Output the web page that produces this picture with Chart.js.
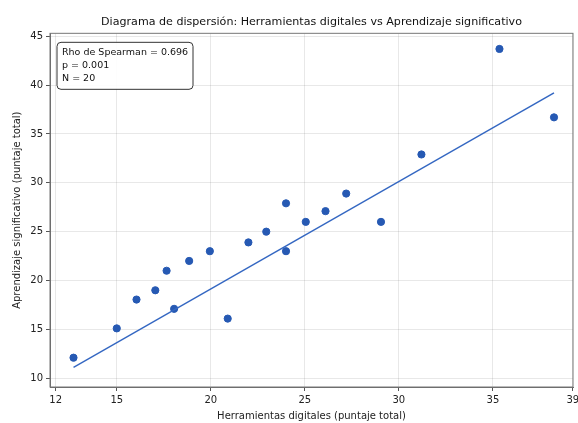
<!DOCTYPE html>
<html>
<head>
<meta charset="utf-8">
<script src="https://cdn.jsdelivr.net/npm/chart.js@4"></script>
<style>
  html, body { margin: 0; padding: 0; background: #fff; overflow: hidden; }
  #wrap { width: 578px; height: 423px; }
</style>
</head>
<body>
<div id="wrap"><canvas id="myChart"></canvas></div>
<script>
"use strict";

// puntajes
const herramientas = [12.7, 15.0, 16.05, 17.05, 17.65, 18.05, 18.85, 19.95, 20.9, 22.0, 22.95, 24.0, 24.0, 25.05, 26.1, 27.2, 29.05, 31.2, 35.35, 38.25];
const aprendizaje = [12.1, 15.1, 18.05, 19.0, 21.0, 17.1, 22.0, 23.0, 16.1, 23.9, 25.0, 27.9, 23.0, 26.0, 27.1, 28.9, 26.0, 32.9, 43.7, 36.7];

// recta de ajuste (extremos)
const ajusteX = [12.7, 38.25];
const ajusteY = [11.1, 39.2];

const xTickValues = [11.75, 15, 20, 25, 30, 35, 39.25];
const xTickLabels = ['12', '15', '20', '25', '30', '35', '39'];
const yTickValues = [10, 15, 20, 25, 30, 35, 40, 45];

const statsLines = ['Rho de Spearman = 0.696', 'p = 0.001', 'N = 20'];

const puntos = herramientas.map(function(x, i) { return { x: x, y: aprendizaje[i] }; });
const recta = ajusteX.map(function(x, i) { return { x: x, y: ajusteY[i] }; });

Chart.defaults.font.family = "'DejaVu Sans', sans-serif";
Chart.defaults.color = '#222';

// marco + cuadro de texto
const boxPlugin = {
  id: 'boxPlugin',
  afterDraw: function(chart) {
    const c = chart.ctx;
    const a = chart.chartArea;
    c.save();
    c.strokeStyle = '#777';
    c.lineWidth = 1;
    c.strokeRect(a.left, a.top, a.right - a.left, a.bottom - a.top);

    const bx = a.left + 7, by = a.top + 9, bw = 136, bh = 47, r = 4;
    c.beginPath();
    c.moveTo(bx + r, by);
    c.arcTo(bx + bw, by, bx + bw, by + bh, r);
    c.arcTo(bx + bw, by + bh, bx, by + bh, r);
    c.arcTo(bx, by + bh, bx, by, r);
    c.arcTo(bx, by, bx + bw, by, r);
    c.closePath();
    c.fillStyle = 'rgba(255,255,255,0.9)';
    c.fill();
    c.strokeStyle = '#333';
    c.stroke();

    c.fillStyle = '#111';
    c.font = "9.5px 'DejaVu Sans'";
    c.textBaseline = 'middle';
    statsLines.forEach(function(t, i) {
      c.fillText(t, bx + 5, by + 10 + i * 13.3);
    });
    c.restore();
  }
};

var ctx = document.getElementById('myChart').getContext('2d');
window.myChart = new Chart(ctx, {
  type: 'scatter',
  data: {
    datasets: [{
      data: puntos,
      backgroundColor: '#2659b3',
      borderColor: '#2659b3',
      pointRadius: 3.6,
      pointHoverRadius: 3.6,
      order: 2
    }, {
      type: 'line',
      data: recta,
      borderColor: '#3467c2',
      borderWidth: 1.4,
      pointRadius: 0,
      fill: false,
      order: 1
    }]
  },
  options: {
    responsive: true,
    maintainAspectRatio: false,
    animation: false,
    layout: { padding: { left: 0, right: 0, top: 0, bottom: 0 } },
    plugins: {
      legend: { display: false },
      tooltip: { enabled: false },
      title: {
        display: true,
        fullSize: false,
        text: 'Diagrama de dispersión: Herramientas digitales vs Aprendizaje significativo',
        font: { size: 11.1, weight: 'normal' },
        color: '#111',
        padding: { top: 15, bottom: 5 }
      }
    },
    scales: {
      x: {
        type: 'linear',
        min: 11.45,
        max: 39.26,
        afterBuildTicks: function(scale) {
          scale.ticks = xTickValues.map(function(v) { return { value: v }; });
        },
        afterFit: function(scale) {
          scale.height = 36;
          scale.paddingRight = 5;
        },
        ticks: {
          font: { size: 10 },
          color: '#222',
          padding: 3,
          maxRotation: 0,
          autoSkip: false,
          callback: function(v, i) { return xTickLabels[i]; }
        },
        grid: { color: 'rgba(0,0,0,0.09)', tickColor: '#555', tickLength: 4 },
        border: { color: '#666' },
        title: {
          display: true,
          text: 'Herramientas digitales (puntaje total)',
          font: { size: 10 },
          color: '#222',
          padding: { top: 0, bottom: 1 }
        }
      },
      y: {
        type: 'linear',
        min: 9.1,
        max: 45.3,
        afterBuildTicks: function(scale) {
          scale.ticks = yTickValues.map(function(v) { return { value: v }; });
        },
        afterFit: function(scale) { scale.width = 50; },
        ticks: {
          font: { size: 10 },
          color: '#222',
          padding: 3
        },
        grid: { color: 'rgba(0,0,0,0.09)', tickColor: '#555', tickLength: 4 },
        border: { color: '#666' },
        title: {
          display: true,
          text: 'Aprendizaje significativo (puntaje total)',
          font: { size: 10 },
          color: '#222',
          padding: { top: 11, bottom: 0 }
        }
      }
    }
  },
  plugins: [boxPlugin]
});
</script>
</body>
</html>
